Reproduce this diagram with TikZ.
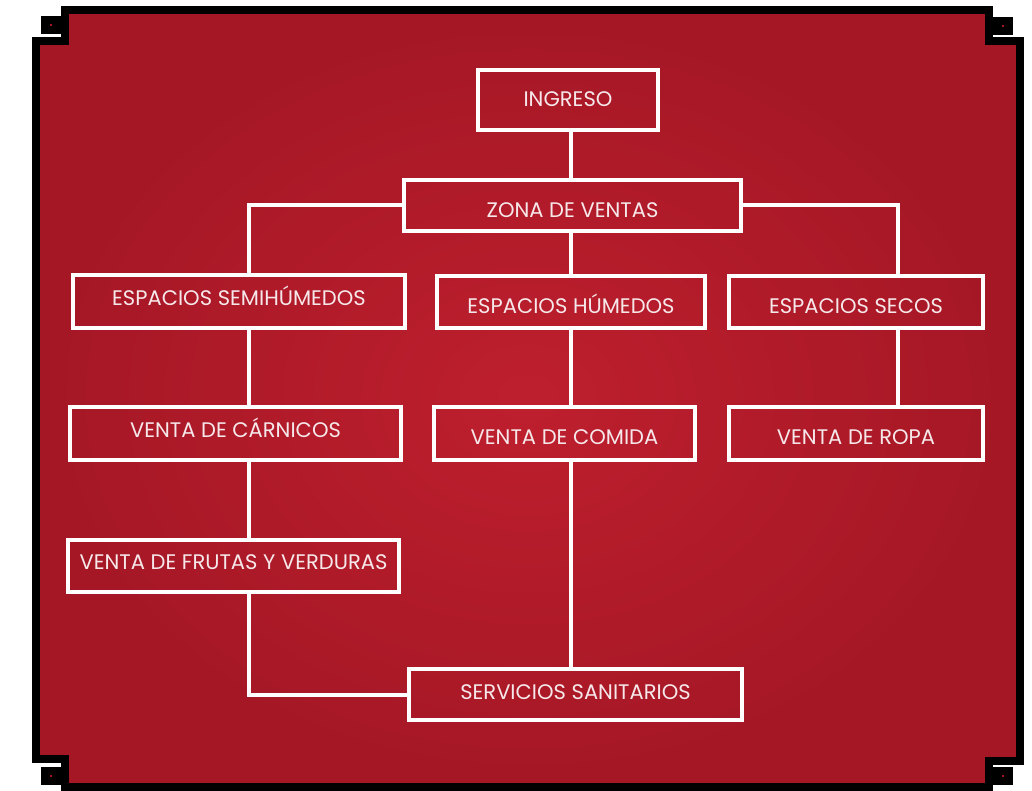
\documentclass[tikz,border=0pt]{standalone}
\usepackage{fontspec}
\setmainfont{Poppins}
\definecolor{redin}{RGB}{190,31,46}
\definecolor{redout}{RGB}{165,23,37}
\definecolor{txt}{RGB}{246,232,234}
\begin{document}
\begin{tikzpicture}[x=0.75pt,y=-0.75pt,
  box/.style={draw=white,line width=3pt,rectangle,inner sep=0pt,text=txt,text height=20pt,font=\fontsize{15.8}{17}\selectfont},
  conn/.style={draw=white,line width=3pt},
  frameline/.style={draw=black,line width=6pt,miter limit=10}]
\useasboundingbox (0,0) rectangle (1032,791);
\fill[white] (0,0) rectangle (1032,791);
% red background
\shade[inner color=redin,outer color=redout] (65,10) -- (989,10) -- (989,41) -- (1020,41) -- (1020,761) -- (989,761) -- (989,787) -- (65,787) -- (65,759) -- (36,759) -- (36,41) -- (65,41) -- cycle;
\draw[frameline] (65,10) -- (989,10) -- (989,41) -- (1020,41) -- (1020,761) -- (989,761) -- (989,787) -- (65,787) -- (65,759) -- (36,759) -- (36,41) -- (65,41) -- cycle;
% corner squares
\foreach \cx/\cy in {51/25, 1003/26, 51/776, 1003/776}{
  \fill[black] (\cx-10,\cy-9) rectangle (\cx+10,\cy+9);
  \fill[redout] (\cx-1,\cy-1) rectangle (\cx+1,\cy+1);
}
% nodes
\node[box,text depth=10.4pt,minimum width=135pt,minimum height=45pt] (ing) at (568,100) {INGRESO};
\node[box,text depth=2.15pt,minimum width=252.75pt,minimum height=38.25pt] (zona) at (572.5,205.5) {ZONA DE VENTAS};
\node[box,text depth=14.15pt,minimum width=249pt,minimum height=39.75pt] (semi) at (239,301.5) {ESPACIOS SEMIHÚMEDOS};
\node[box,text depth=2.9pt,minimum width=201pt,minimum height=39pt] (hum) at (571,302) {ESPACIOS HÚMEDOS};
\node[box,text depth=2.9pt,minimum width=190.5pt,minimum height=39pt] (sec) at (856,302) {ESPACIOS SECOS};
\node[box,text depth=14.15pt,minimum width=248.25pt,minimum height=39.75pt] (car) at (235.5,433.5) {VENTA DE CÁRNICOS};
\node[box,text depth=3.65pt,minimum width=195.75pt,minimum height=39.75pt] (com) at (564.5,433.5) {VENTA DE COMIDA};
\node[box,text depth=3.65pt,minimum width=190.5pt,minimum height=39.75pt] (ropa) at (856,433.5) {VENTA DE ROPA};
\node[box,text depth=14.9pt,minimum width=248.25pt,minimum height=39pt] (fru) at (233.5,566) {VENTA DE FRUTAS Y VERDURAS};
\node[box,text depth=12.65pt,minimum width=249.75pt,minimum height=38.25pt] (san) at (575.5,694.5) {SERVICIOS SANITARIOS};
% x positions of vertical connectors
\coordinate (xL) at (249,0);
\coordinate (xM) at (571,0);
\coordinate (xR) at (898,0);
% connectors
\draw[conn] (xM |- ing.south) -- (xM |- zona.north);
\draw[conn] (zona.west) -| (xL |- semi.north);
\draw[conn] (zona.east) -| (xR |- sec.north);
\draw[conn] (xM |- zona.south) -- (xM |- hum.north);
\draw[conn] (xL |- semi.south) -- (xL |- car.north);
\draw[conn] (xL |- car.south) -- (xL |- fru.north);
\draw[conn] (xL |- fru.south) |- (san.west);
\draw[conn] (xM |- hum.south) -- (xM |- com.north);
\draw[conn] (xM |- com.south) -- (xM |- san.north);
\draw[conn] (xR |- sec.south) -- (xR |- ropa.north);
\end{tikzpicture}
\end{document}
